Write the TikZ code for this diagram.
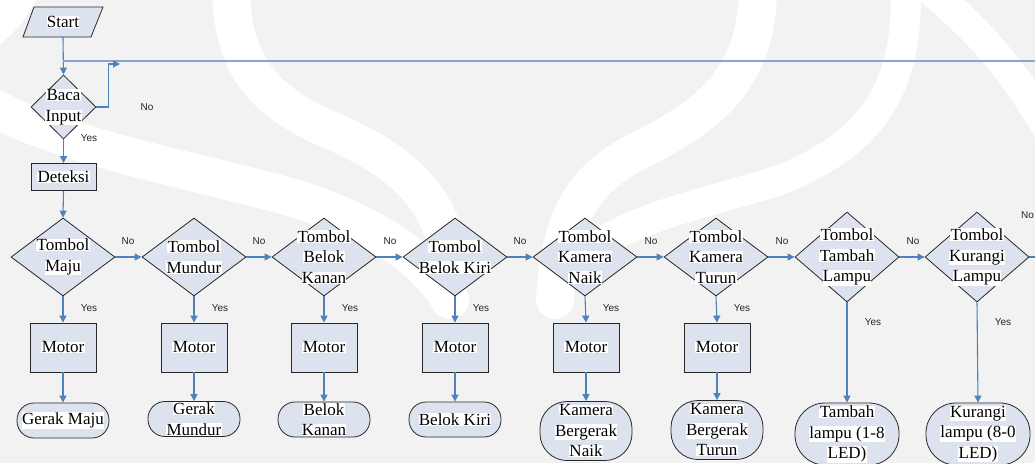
\documentclass[tikz,border=0pt]{standalone}
\usepackage{fontspec}
\setmainfont{Liberation Serif}
\newfontfamily\lblfont{Liberation Sans}
\usetikzlibrary{shapes.geometric,arrows.meta}
\definecolor{flow}{RGB}{79,129,189}
\definecolor{flowlight}{RGB}{135,165,212}
\definecolor{boxfill}{RGB}{221,227,238}
\definecolor{boxline}{RGB}{40,40,40}
\definecolor{paper}{RGB}{242,242,242}
% white highlight behind each text line
\newcommand\hl[1]{{\setlength{\fboxsep}{0.3pt}\colorbox{white}{#1}}}

\begin{document}
\begin{tikzpicture}[x=1pt,y=-1pt,
  shapebox/.style={draw=boxline, fill=boxfill, line width=0.8pt, inner sep=0pt},
  decision/.style={shapebox, diamond, minimum width=104pt, minimum height=78pt},
  bigdecision/.style={decision, minimum height=90pt},
  process/.style={shapebox, rectangle, minimum width=66pt, minimum height=49pt},
  terminal/.style={shapebox, rectangle, rounded corners=17pt, minimum width=92pt, minimum height=35pt},
  tallterminal/.style={terminal, rounded corners=27pt, minimum height=59pt},
  txt/.style={inner sep=0pt, align=center, font=\fontsize{17}{20.5}\selectfont},
  lbl/.style={inner sep=0pt, font=\lblfont\fontsize{10}{11}\selectfont, text=black!85},
  flowline/.style={draw=flow, line width=1.1pt},
  arrow/.style={flowline, -{Triangle[length=7pt,width=7pt]}},
  band/.style={draw=white, line width=38pt, line cap=round},
]
\useasboundingbox (0,0) rectangle (1035,463);
\fill[paper] (0,0) rectangle (1035,463);

% light emblem in the background
\begin{scope}
  \clip (0,0) rectangle (1035,463);
  \draw[band] (232,-30) .. controls (226,60) and (260,100) .. (330,130)
      .. controls (400,160) and (440,195) .. (450,260);
  \draw[band] (-30,95) .. controls (60,150) and (200,170) .. (300,200)
      .. controls (360,220) and (420,250) .. (450,300);
  \draw[band] (758,-30) .. controls (762,70) and (720,110) .. (640,150)
      .. controls (580,180) and (560,220) .. (555,300);
  \draw[band, line width=30pt] (905,-30) .. controls (912,80) and (880,140) .. (780,180)
      .. controls (700,205) and (640,215) .. (590,250);
  \draw[band, line width=30pt] (930,-10) .. controls (990,40) and (1020,80) .. (1060,150);
  \draw[band, line width=30pt] (-20,40) .. controls (10,20) and (20,0) .. (30,-20);
\end{scope}

% start (parallelogram) and input
\filldraw[draw=boxline, fill=boxfill, line width=0.8pt]
  (34,7) -- (103,7) -- (91,37) -- (23,37) -- cycle;
\node[txt, minimum height=30pt] (start) at (63,22) {\hl{Start}};
\node[shapebox, diamond, minimum width=65pt, minimum height=64pt] (baca) at (63.5,107) {};
\node[txt] (bacatxt) at (baca) {\hl{Baca}\\\hl{Input}};
\node[shapebox, rectangle, minimum width=65pt, minimum height=27pt] (deteksi) at (63.5,177) {};
\node[txt] (deteksitxt) at (deteksi) {\hl{Deteksi}};

% decisions
\node[decision] (d1) at (63,257) {};
\node[decision] (d2) at (194,257) {};
\node[decision] (d3) at (324,257) {};
\node[decision] (d4) at (455,257) {};
\node[decision] (d5) at (585,257) {};
\node[decision] (d6) at (716,257) {};
\node[bigdecision] (d7) at (847,257) {};
\node[bigdecision] (d8) at (977,257) {};
\node[txt] (t1) at (d1) {\hl{Tombol}\\\hl{Maju}};
\node[txt] (t2) at (d2) {\hl{Tombol}\\\hl{Mundur}};
\node[txt] (t3) at (d3) {\hl{Tombol}\\\hl{Belok}\\\hl{Kanan}};
\node[txt] (t4) at (d4) {\hl{Tombol}\\\hl{Belok Kiri}};
\node[txt] (t5) at (d5) {\hl{Tombol}\\\hl{Kamera}\\\hl{Naik}};
\node[txt] (t6) at (d6) {\hl{Tombol}\\\hl{Kamera}\\\hl{Turun}};
\node[txt] (t7) at (d7) {\hl{Tombol}\\\hl{Tambah}\\\hl{Lampu}};
\node[txt] (t8) at (d8) {\hl{Tombol}\\\hl{Kurangi}\\\hl{Lampu}};

% motor blocks
\foreach \i/\x in {1/63,2/194,3/324,4/455,5/586,6/717}{
  \node[process] (m\i) at (\x,347.5) {};
  \node[txt] (mt\i) at (m\i) {\hl{Motor}};
}

% end states
\node[terminal] (e1) at (63,420.5) {};
\node[terminal] (e2) at (194,419) {};
\node[terminal] (e3) at (324,419.5) {};
\node[terminal] (e4) at (455,419.5) {};
\node[tallterminal] (e5) at (586,431) {};
\node[tallterminal] (e6) at (717,430) {};
\node[tallterminal, minimum width=104pt, minimum height=62pt, rounded corners=30pt] (e7) at (847,434) {};
\node[tallterminal, minimum width=104pt, minimum height=62pt, rounded corners=30pt] (e8) at (978,434) {};
\node[txt] (et1) at (e1) {\hl{Gerak Maju}};
\node[txt] (et2) at (e2) {\hl{Gerak}\\\hl{Mundur}};
\node[txt] (et3) at (e3) {\hl{Belok}\\\hl{Kanan}};
\node[txt] (et4) at (e4) {\hl{Belok Kiri}};
\node[txt] (et5) at (e5) {\hl{Kamera}\\\hl{Bergerak}\\\hl{Naik}};
\node[txt] (et6) at (e6) {\hl{Kamera}\\\hl{Bergerak}\\\hl{Turun}};
\node[txt] (et7) at (e7) {\hl{Tambah}\\\hl{lampu (1-8}\\\hl{LED)}};
\node[txt] (et8) at (e8) {\hl{Kurangi}\\\hl{lampu (8-0}\\\hl{LED)}};

% top loop and exits
\coordinate (loopR) at (1035,61);
\coordinate (bacaNo) at (120,64);
\coordinate (exitR) at (1035,257);
\draw[arrow] (start.south) -- (baca.north);
\draw[flowline, draw=flowlight] (loopR) -- (start.south |- loopR);
\draw[arrow] (baca.east) -- ++(12,0) |- (bacaNo);
\draw[arrow] (baca.south) -- (deteksi.north);
\draw[arrow] (deteksi.south) -- (d1.north);

% decision chain
\foreach \a/\b in {d1/d2,d2/d3,d3/d4,d4/d5,d5/d6,d6/d7,d7/d8}
  \draw[arrow] (\a.east) -- (\b.west);
\draw[flowline] (d8.east) -- (exitR);

% branch labels
\node[lbl] (lb0) at (147,107) {No};
\node[lbl] (ly0) at (89,138) {Yes};
\foreach \x in {128,259,390,520,651,782,913}
  \node[lbl] at (\x,241) {No};
\node[lbl, anchor=west] (lb8) at (1021,215) {No};
\foreach \x in {89,220,350,481,611,742}
  \node[lbl] at (\x,308) {Yes};
\node[lbl] (ly7) at (873,322) {Yes};
\node[lbl] (ly8) at (1003,322) {Yes};

% yes branches
\foreach \i in {1,...,6}{
  \draw[arrow] (d\i.south) -- (m\i.north);
  \draw[arrow] (m\i.south) -- (e\i.north);
}
\draw[arrow] (d7.south) -- (e7.north);
\draw[arrow] (d8.south) -- (e8.north);
\end{tikzpicture}
\end{document}
